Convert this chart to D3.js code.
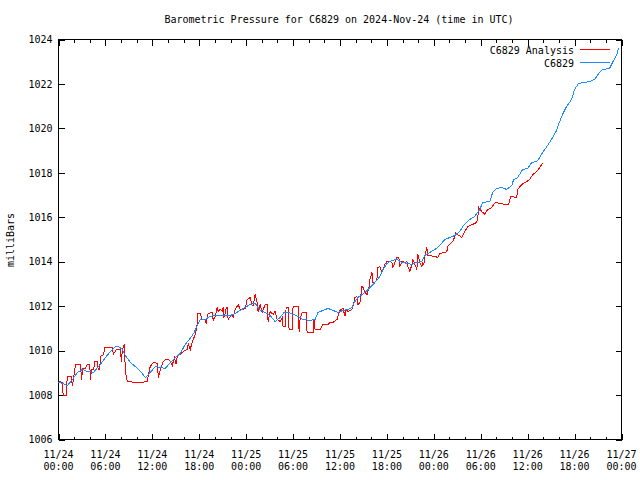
<!DOCTYPE html>
<html><head><meta charset="utf-8">
<script src="https://cdn.jsdelivr.net/npm/d3@7"></script>
<style>
body{margin:0;background:#fff}
svg{display:block}
text{font-family:"DejaVu Sans Mono","Liberation Mono",monospace;font-size:10px;fill:#000}
</style>
</head><body>
<svg id="c" width="640" height="480"></svg>
<script>
const chartTitle = "Barometric Pressure for C6829 on 2024-Nov-24 (time in UTC)";
const yAxisLabel = "milliBars";
const seriesNames = ["C6829 Analysis", "C6829"];
const startTime = Date.UTC(2024, 10, 24, 0, 0);
const endTime = Date.UTC(2024, 10, 27, 0, 0);
const yTicks = [1006, 1008, 1010, 1012, 1014, 1016, 1018, 1020, 1022, 1024];

// hours since 2024-11-24 00:00 UTC
const analysisHours = [0.04,0.47,0.60,1.02,1.11,1.62,1.79,1.95,2.17,2.81,
2.94,3.10,3.45,3.66,4.00,4.09,4.21,4.51,4.60,4.94,
5.07,5.27,5.36,5.78,5.91,6.89,7.02,7.40,7.91,8.04,
8.17,8.43,8.55,8.81,9.83,10.72,11.36,11.49,11.74,12.13,
12.64,12.77,13.02,13.40,13.66,14.04,14.30,14.55,14.81,15.06,
15.19,15.57,15.96,16.47,16.60,16.85,17.11,17.49,17.74,17.81,
18.13,18.38,18.77,18.89,19.02,19.15,19.66,19.79,20.04,20.30,
20.43,20.68,20.94,21.06,21.13,21.32,21.45,21.57,21.70,21.96,
22.21,22.34,22.60,22.98,23.23,23.62,23.87,24.13,24.51,24.77,
24.89,25.15,25.40,25.53,25.79,26.04,26.43,26.68,26.81,27.06,
27.45,27.70,27.96,28.34,28.60,28.72,28.98,29.11,29.36,29.49,
29.87,30.00,30.64,30.77,30.89,31.15,31.66,31.79,32.55,32.68,
32.81,33.45,33.70,33.83,34.47,34.72,35.11,35.62,35.74,36.00,
36.38,36.64,36.77,37.02,37.53,37.66,37.91,38.17,38.30,38.55,
38.81,38.94,39.19,39.45,39.70,39.83,40.09,40.21,40.47,40.72,
40.85,41.11,41.36,41.49,41.74,42.00,42.38,42.64,42.77,43.02,
43.28,43.53,43.66,43.91,44.30,44.55,44.68,44.94,45.19,45.32,
45.57,45.83,45.96,46.21,46.47,46.60,46.72,46.85,47.11,47.23,
48.13,48.51,48.77,49.40,49.66,49.79,50.30,50.43,50.68,50.81,
51.06,51.57,51.96,52.34,52.98,53.49,53.62,53.74,54.13,54.51,
54.89,55.40,55.66,55.91,56.43,57.06,57.57,57.83,58.60,58.72,
59.23,59.87,60.26,60.64,61.15,61.53,61.91];
const analysisPressure = [1008.61,1008.57,1007.98,1007.98,1008.84,1008.84,1008.39,1008.84,1009.38,1009.38,
1008.70,1009.20,1009.20,1009.38,1009.38,1008.70,1009.15,1009.15,1009.51,1009.51,
1009.15,1009.15,1009.74,1009.83,1010.14,1010.14,1009.83,1010.05,1010.05,1009.51,
1010.05,1010.28,1009.02,1008.61,1008.57,1008.57,1008.61,1008.93,1009.29,1009.47,
1009.42,1008.79,1009.15,1009.51,1009.60,1009.60,1009.51,1009.33,1009.69,1009.38,
1009.78,1009.83,1009.96,1010.05,1010.32,1010.05,1010.41,1010.72,1011.18,1011.67,
1011.67,1011.40,1011.40,1011.18,1011.49,1011.67,1011.72,1011.36,1011.54,1011.94,
1011.76,1011.85,1011.76,1011.94,1011.49,1011.67,1011.94,1011.94,1011.40,1011.54,
1011.58,1011.49,1011.85,1012.08,1011.85,1011.85,1011.90,1012.30,1012.39,1012.03,
1012.03,1012.52,1012.17,1011.72,1012.08,1011.72,1012.08,1012.08,1011.31,1011.76,
1011.63,1011.76,1011.40,1011.31,1011.49,1011.09,1011.09,1011.94,1011.94,1010.95,
1010.95,1011.99,1011.99,1010.86,1011.40,1011.72,1011.72,1010.82,1010.82,1011.40,
1010.95,1010.95,1011.09,1011.18,1011.18,1011.27,1011.27,1011.40,1011.54,1011.81,
1011.90,1011.54,1011.85,1011.76,1011.85,1011.99,1012.39,1012.43,1012.08,1012.17,
1012.89,1012.84,1012.62,1012.52,1012.84,1013.20,1013.51,1013.07,1013.07,1013.20,
1013.74,1013.78,1013.51,1013.65,1013.88,1014.01,1014.01,1013.97,1013.74,1013.97,
1014.19,1014.19,1013.78,1014.01,1013.97,1014.01,1013.78,1013.56,1013.88,1014.10,
1013.88,1013.65,1014.33,1013.97,1013.78,1013.97,1013.88,1014.24,1014.64,1014.28,
1014.24,1014.19,1014.37,1014.42,1014.46,1014.69,1014.87,1014.91,1015.13,1015.31,
1015.22,1015.09,1015.36,1015.58,1015.68,1015.77,1015.99,1016.44,1016.26,1016.13,
1016.35,1016.44,1016.58,1016.67,1016.62,1016.58,1016.58,1016.94,1016.89,1017.25,
1017.47,1017.61,1017.70,1017.92,1018.06,1018.24,1018.42];

const stationHours = [0.00,0.51,1.15,1.79,2.43,3.06,3.70,4.47,5.36,6.00,
6.64,7.28,7.66,8.17,8.55,9.19,9.96,10.60,11.11,11.74,
12.38,13.02,13.66,14.30,14.94,15.57,16.21,16.85,17.36,17.74,
18.13,18.77,19.40,20.04,20.68,21.32,21.96,22.60,23.23,23.87,
24.51,25.15,25.79,26.43,27.06,27.70,28.34,28.85,29.36,30.00,
30.64,31.28,32.17,32.81,33.19,33.83,34.47,35.11,35.74,36.38,
37.02,37.53,37.91,38.30,38.81,39.32,39.83,40.47,41.11,41.49,
42.00,42.64,43.28,43.91,44.55,45.19,45.83,46.47,46.85,47.49,
48.13,48.77,49.40,50.04,50.68,51.32,51.70,52.60,53.23,53.87,
54.26,55.15,55.53,56.04,56.68,57.32,57.96,58.21,58.72,59.36,
60.00,60.51,61.15,61.53,61.91,62.55,63.19,63.70,64.09,64.47,
64.98,65.62,66.00,66.51,67.28,67.91,68.55,69.19,69.57,70.47,
70.85,71.36,71.62];
const stationPressure = [1008.57,1008.52,1008.43,1008.70,1009.02,1009.15,1009.06,1009.02,1009.38,1009.69,
1009.96,1010.19,1010.19,1010.05,1009.78,1009.47,1009.24,1009.02,1008.79,1009.02,
1009.29,1009.24,1009.20,1009.47,1009.69,1009.87,1010.28,1010.55,1010.82,1011.13,
1011.40,1011.40,1011.54,1011.58,1011.58,1011.58,1011.58,1011.67,1011.81,1011.94,
1012.08,1012.12,1011.81,1011.72,1011.58,1011.31,1011.49,1011.72,1011.72,1011.63,
1011.54,1011.40,1011.36,1011.40,1011.72,1011.81,1011.90,1011.81,1011.72,1011.81,
1011.85,1011.94,1012.21,1012.39,1012.52,1012.66,1012.84,1013.07,1013.34,1013.65,
1013.92,1014.06,1014.10,1013.97,1013.92,1013.88,1013.97,1014.01,1014.28,1014.42,
1014.55,1014.73,1015.00,1015.09,1015.18,1015.36,1015.59,1015.90,1016.04,1016.35,
1016.67,1016.71,1017.12,1017.30,1017.34,1017.25,1017.43,1017.70,1017.79,1018.15,
1018.20,1018.47,1018.51,1018.69,1018.92,1019.23,1019.59,1019.91,1020.31,1020.63,
1020.99,1021.30,1021.75,1022.02,1022.07,1022.11,1022.20,1022.52,1022.65,1022.70,
1022.97,1023.28,1023.60];

const seriesColors = ["#ff0000", "#1a8cff"];

const svg = d3.select("#c");
const L = 58.5, R = 621.5, T = 39.5, B = 439.5;
const toDate = h => new Date(startTime + h * 3600e3);

const x = d3.scaleUtc().domain([new Date(startTime), new Date(endTime)]).range([L, R]);
const y = d3.scaleLinear().domain([yTicks[0], yTicks[yTicks.length - 1]]).range([B, T]);

const majorTicks = d3.utcHour.every(6).range(new Date(startTime), new Date(endTime + 1));
const minorTicks = d3.utcHour.every(2).range(new Date(startTime), new Date(endTime + 1))
  .filter(d => d.getUTCHours() % 6 !== 0);

function styleAxis(g) {
  g.select(".domain").remove();
  g.selectAll("line").attr("stroke", "#000").attr("shape-rendering", "crispEdges");
  g.attr("font-family", null).attr("font-size", null);
}

// Title
svg.append("text").attr("x", 339).attr("y", 23).attr("text-anchor", "middle").text(chartTitle);

// Frame
svg.append("rect").attr("x", L).attr("y", T).attr("width", R - L).attr("height", B - T)
  .attr("fill", "none").attr("stroke", "#000").attr("shape-rendering", "crispEdges");

// Ticks bottom/top
svg.append("g").attr("transform", `translate(0,${B})`)
  .call(d3.axisBottom(x).tickValues(majorTicks).tickSize(-6).tickFormat("")).call(styleAxis);
svg.append("g").attr("transform", `translate(0,${B})`)
  .call(d3.axisBottom(x).tickValues(minorTicks).tickSize(-3).tickFormat("")).call(styleAxis);
svg.append("g").attr("transform", `translate(0,${T})`)
  .call(d3.axisTop(x).tickValues(majorTicks).tickSize(-6).tickFormat("")).call(styleAxis);
svg.append("g").attr("transform", `translate(0,${T})`)
  .call(d3.axisTop(x).tickValues(minorTicks).tickSize(-3).tickFormat("")).call(styleAxis);

// Ticks left/right
svg.append("g").attr("transform", `translate(${L},0)`)
  .call(d3.axisLeft(y).tickValues(yTicks).tickSize(-6).tickPadding(6).tickFormat(d3.format("d")))
  .call(styleAxis);
svg.append("g").attr("transform", `translate(${R},0)`)
  .call(d3.axisRight(y).tickValues(yTicks).tickSize(-6).tickFormat("")).call(styleAxis);

// X labels (two lines)
const fmtDay = d3.utcFormat("%m/%d"), fmtTime = d3.utcFormat("%H:%M");
const xl = svg.append("g").selectAll("text").data(majorTicks).join("text")
  .attr("text-anchor", "middle").attr("transform", d => `translate(${x(d)},0)`);
xl.append("tspan").attr("x", 0).attr("y", 457.5).text(fmtDay);
xl.append("tspan").attr("x", 0).attr("y", 469.5).text(fmtTime);

// Y label
svg.append("text").attr("transform", "translate(14,240) rotate(-90)")
  .attr("text-anchor", "middle").text(yAxisLabel);

// Lines
const line = d3.line().x(d => x(toDate(d[0]))).y(d => y(d[1]));
const series = [
  analysisHours.map((h, i) => [h, analysisPressure[i]]),
  stationHours.map((h, i) => [h, stationPressure[i]])
];
series.forEach((s, i) => {
  svg.append("path").datum(s).attr("d", line).attr("fill", "none")
    .attr("stroke", seriesColors[i]).attr("stroke-width", 1)
    .attr("shape-rendering", "crispEdges");
});

// Legend
seriesNames.forEach((name, i) => {
  const ly = 49.5 + i * 13;
  svg.append("text").attr("x", 574).attr("y", ly + 4).attr("text-anchor", "end").text(name);
  svg.append("line").attr("x1", 580).attr("x2", 610).attr("y1", ly).attr("y2", ly)
    .attr("stroke", seriesColors[i]).attr("shape-rendering", "crispEdges");
});
</script>
</body></html>
